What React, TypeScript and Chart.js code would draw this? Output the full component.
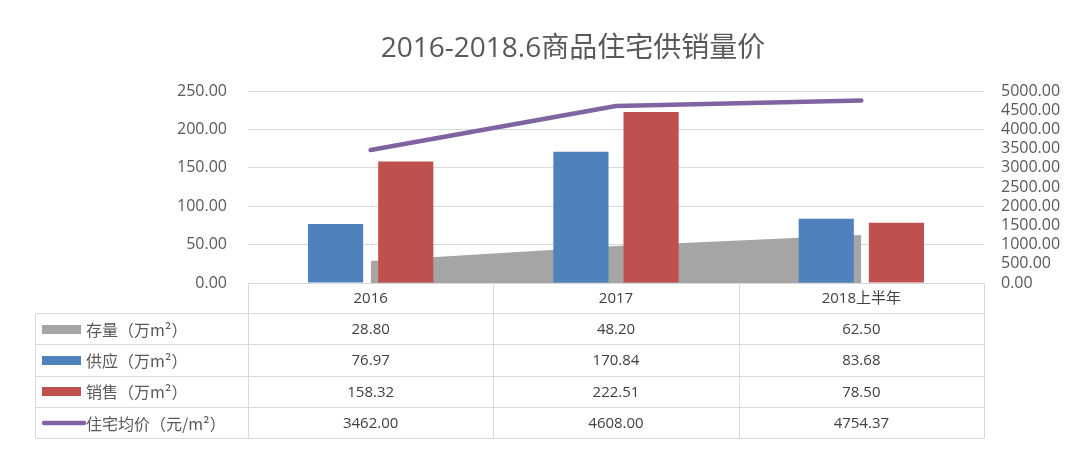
import React, { useEffect, useRef } from "react";
import { Chart, registerables } from "chart.js";

Chart.register(...registerables);

const title = "2016-2018.6商品住宅供销量价";
const categories = ["2016", "2017", "2018上半年"];
const stock = [28.8, 48.2, 62.5];
const supply = [76.97, 170.84, 83.68];
const sales = [158.32, 222.51, 78.5];
const price = [3462.0, 4608.0, 4754.37];
const seriesLabels = ["存量（万m²）", "供应（万m²）", "销售（万m²）", "住宅均价（元/m²）"];
const seriesColors = ["#a5a5a5", "#4f81bd", "#c0504d", "#8064a2"];
const seriesData = [stock, supply, sales, price];
const leftAxis = { min: 0, max: 250, step: 50 };
const rightAxis = { min: 0, max: 5000, step: 500 };

const LATIN = '"Open Sans", "Noto Sans CJK SC", sans-serif';
const CJK = '"Noto Sans CJK SC", "Open Sans", sans-serif';

const titlePlugin = {
  id: "customTitle",
  afterDraw(chart: any) {
    const ctx = chart.ctx;
    ctx.save();
    ctx.font = `28px ${LATIN}`;
    ctx.fillStyle = "#595959";
    ctx.textAlign = "center";
    ctx.textBaseline = "alphabetic";
    ctx.fillText(title, 573, 57);
    ctx.restore();
  },
};

const tablePlugin = {
  id: "dataTable",
  afterDraw(chart: any) {
    const ctx = chart.ctx;
    const xs = chart.scales.x;
    const area = chart.chartArea;
    const n = categories.length;
    const bounds: number[] = [];
    for (let i = 0; i <= n; i++) {
      if (i === 0) bounds.push(area.left);
      else if (i === n) bounds.push(area.right);
      else bounds.push((xs.getPixelForValue(i - 1) + xs.getPixelForValue(i)) / 2);
    }
    const top = area.bottom;
    const headerH = 30;
    const rowH = 31.3;
    const tableLeft = 35;
    const rowTops: number[] = [top, top + headerH];
    for (let r = 1; r <= seriesLabels.length; r++) rowTops.push(top + headerH + r * rowH);
    const tableBottom = rowTops[rowTops.length - 1];
    const al = (v: number) => Math.round(v) + 0.5;

    ctx.save();
    ctx.strokeStyle = "#d9d9d9";
    ctx.lineWidth = 1;
    ctx.beginPath();
    // header top line (data columns only)
    ctx.moveTo(al(bounds[0]), al(top));
    ctx.lineTo(al(bounds[n]), al(top));
    // row lines
    for (let r = 1; r < rowTops.length; r++) {
      ctx.moveTo(al(tableLeft), al(rowTops[r]));
      ctx.lineTo(al(bounds[n]), al(rowTops[r]));
    }
    // vertical lines
    for (let i = 0; i <= n; i++) {
      ctx.moveTo(al(bounds[i]), al(top));
      ctx.lineTo(al(bounds[i]), al(tableBottom));
    }
    ctx.moveTo(al(tableLeft), al(rowTops[1]));
    ctx.lineTo(al(tableLeft), al(tableBottom));
    ctx.stroke();

    // header labels
    ctx.textAlign = "center";
    ctx.textBaseline = "middle";
    ctx.fillStyle = "#404040";
    ctx.font = `15px ${LATIN}`;
    for (let i = 0; i < n; i++) {
      ctx.fillText(categories[i], (bounds[i] + bounds[i + 1]) / 2, top + headerH / 2 + 1);
    }

    // rows
    for (let r = 0; r < seriesLabels.length; r++) {
      const yc = (rowTops[r + 1] + rowTops[r + 2]) / 2;
      // key
      ctx.fillStyle = seriesColors[r];
      if (r < 3) {
        ctx.fillRect(42, Math.round(yc) - 4, 39, 9);
      } else {
        ctx.save();
        ctx.strokeStyle = seriesColors[r];
        ctx.lineWidth = 4.5;
        ctx.lineCap = "round";
        ctx.beginPath();
        ctx.moveTo(44, yc + 0.5);
        ctx.lineTo(84, yc + 0.5);
        ctx.stroke();
        ctx.restore();
      }
      ctx.textAlign = "left";
      ctx.fillStyle = "#595959";
      ctx.font = `16px ${CJK}`;
      ctx.fillText(seriesLabels[r], r < 3 ? 86 : 86, yc + 1);
      // values
      ctx.textAlign = "center";
      ctx.fillStyle = "#404040";
      ctx.font = `15px ${LATIN}`;
      for (let i = 0; i < n; i++) {
        ctx.fillText(seriesData[r][i].toFixed(2), (bounds[i] + bounds[i + 1]) / 2, yc + 1);
      }
    }
    ctx.restore();
  },
};

export default function App() {
  const ref = useRef<HTMLCanvasElement | null>(null);
  useEffect(() => {
    if (!ref.current) return;
    const chart = new Chart(ref.current, {
      type: "bar",
      data: {
        labels: categories,
        datasets: [
          {
            type: "line",
            label: seriesLabels[0],
            data: stock,
            yAxisID: "y",
            fill: "origin",
            backgroundColor: seriesColors[0],
            borderColor: seriesColors[0],
            borderWidth: 0,
            pointRadius: 0,
            tension: 0,
            order: 3,
          } as any,
          {
            type: "bar",
            label: seriesLabels[1],
            data: supply,
            yAxisID: "y",
            backgroundColor: seriesColors[1],
            barPercentage: 0.786,
            categoryPercentage: 0.572,
            order: 2,
          },
          {
            type: "bar",
            label: seriesLabels[2],
            data: sales,
            yAxisID: "y",
            backgroundColor: seriesColors[2],
            barPercentage: 0.786,
            categoryPercentage: 0.572,
            order: 2,
          },
          {
            type: "line",
            label: seriesLabels[3],
            data: price,
            yAxisID: "y1",
            fill: false,
            borderColor: seriesColors[3],
            backgroundColor: seriesColors[3],
            borderWidth: 4.5,
            borderCapStyle: "round",
            borderJoinStyle: "round",
            pointRadius: 0,
            tension: 0,
            order: 1,
          } as any,
        ],
      },
      options: {
        responsive: false,
        animation: false,
        devicePixelRatio: 1,
        layout: { padding: { top: 91, bottom: 166, left: 0, right: 0 } },
        plugins: {
          legend: { display: false },
          tooltip: { enabled: false },
          title: { display: false },
        },
        scales: {
          x: {
            type: "category",
            offset: true,
            display: false,
            grid: { display: false },
          },
          y: {
            position: "left",
            min: leftAxis.min,
            max: leftAxis.max,
            border: { display: false },
            grid: { color: "#d9d9d9", lineWidth: 1, drawTicks: false },
            ticks: {
              stepSize: leftAxis.step,
              padding: 21,
              color: "#595959",
              font: { family: LATIN, size: 16 },
              callback: (v: any) => Number(v).toFixed(2),
            },
            afterFit: (s: any) => {
              s.width = 248;
            },
          },
          y1: {
            position: "right",
            min: rightAxis.min,
            max: rightAxis.max,
            border: { display: false },
            grid: { display: false, drawTicks: false },
            ticks: {
              stepSize: rightAxis.step,
              padding: 17,
              color: "#595959",
              font: { family: LATIN, size: 16 },
              autoSkip: false,
              callback: (v: any) => Number(v).toFixed(2),
            },
            afterFit: (s: any) => {
              s.width = 96;
            },
          },
        },
      },
      plugins: [titlePlugin, tablePlugin],
    });
    return () => chart.destroy();
  }, []);

  return (
    <div style={{ position: "absolute", left: 0, top: 0, width: 1080, height: 449, background: "#fff" }}>
      <canvas ref={ref} width={1080} height={449} style={{ display: "block" }} />
    </div>
  );
}
